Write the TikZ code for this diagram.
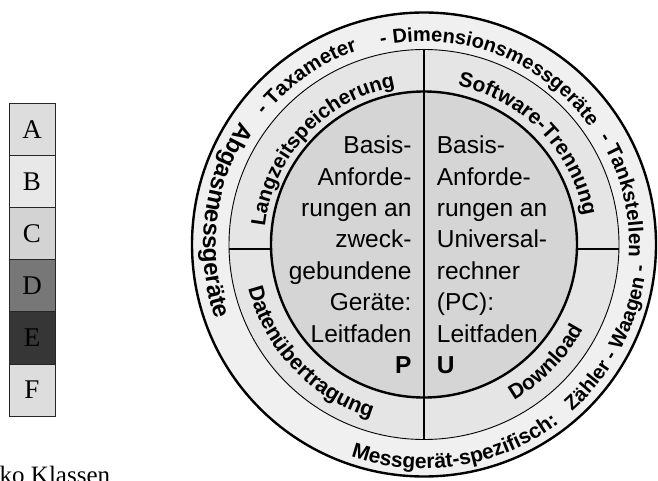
\documentclass[tikz,border=0pt]{standalone}
\usepackage{fontspec}
\setmainfont{Liberation Serif}
\newfontfamily\arialfont{Liberation Sans}
\usetikzlibrary{decorations.text}

\definecolor{ringouter}{HTML}{F0F0F0}
\definecolor{ringmid}{HTML}{E5E5E5}
\definecolor{ringinner}{HTML}{D5D5D5}
\definecolor{clsA}{HTML}{DDDDDD}
\definecolor{clsB}{HTML}{E8E8E8}
\definecolor{clsC}{HTML}{D3D3D3}
\definecolor{clsD}{HTML}{777777}
\definecolor{clsE}{HTML}{363636}
\definecolor{clsF}{HTML}{DDDDDD}

\tikzset{
  classbox/.style={draw=black!85, line width=0.9pt, minimum width=46pt,
    minimum height=52.2pt, inner sep=0pt,
    font=\fontsize{27}{32}\selectfont},
  coretext/.style={inner sep=0pt, font=\arialfont\fontsize{24.5}{31.4}\selectfont},
  thickline/.style={line width=2.4pt},
  thinline/.style={line width=0.9pt},
  bandtext/.style={decorate, decoration={text along path, text align=center, text={#1}}}
}

\begin{document}
\begin{tikzpicture}[x=1pt,y=1pt]
\useasboundingbox (0,0) rectangle (658,480);

% risk classes
\node[classbox, fill=clsA] (A) at (32,350.9) {A};
\node[classbox, fill=clsB] (B) at (32,298.7) {B};
\node[classbox, fill=clsC] (Cc) at (32,246.5) {C};
\node[classbox, fill=clsD] (D) at (32,194.3) {D};
\node[classbox, fill=clsE] (E) at (32,142.1) {E};
\node[classbox, fill=clsF] (F) at (32,89.9) {F};
\node[anchor=base west, inner sep=0pt, font=\fontsize{25}{30}\selectfont] (klassen) at (-0.5,-3.5) {ko Klassen};

% rings
\coordinate (C) at (424,235.5);
\fill[ringouter] (C) circle[radius=232];
\fill[ringmid] (C) circle[radius=195];
\fill[ringinner] (C) circle[radius=153];
\draw[thickline] (C) circle[radius=232];
\draw[thinline] (C) circle[radius=195];
\draw[thickline] (C) circle[radius=153];

% dividers
\coordinate (vtop) at (424,430.5);
\coordinate (vbot) at (424,40.5);
\draw[line width=2.6pt] (vtop) -- (vbot);
\coordinate (hl1) at (229,231);
\coordinate (hl2) at (271,231);
\coordinate (hr1) at (577,231);
\coordinate (hr2) at (619,231);
\draw[line width=2pt] (hl1) -- (hl2);
\draw[line width=2pt] (hr1) -- (hr2);

% core texts
\node[coretext, anchor=north east, align=right] (P) at (411.7,344.3)
  {Basis-\\Anforde-\\rungen an\\zweck-\\gebundene\\Geräte:\\Leitfaden\\\textbf{P}};
\node[coretext, anchor=north west, align=left] (U) at (436.7,344.3)
  {Basis-\\Anforde-\\rungen an\\Universal-\\rechner\\(PC):\\Leitfaden\\\textbf{U}};

% middle band
\path[bandtext={|\arialfont\bfseries\fontsize{20.5}{24}\selectfont|Langzeitspeicherung}]
  (C) ++(182:160) arc[start angle=182, end angle=92, radius=160];
\path[bandtext={|\arialfont\bfseries\fontsize{21}{24}\selectfont|Software-Trennung}]
  (C) ++(89:162) arc[start angle=89, end angle=-1, radius=162];
\path[bandtext={|\arialfont\bfseries\fontsize{21.5}{24}\selectfont|Datenübertragung}]
  (C) ++(178.5:181) arc[start angle=178.5, end angle=268.5, radius=181];
\path[bandtext={|\arialfont\bfseries\fontsize{21}{24}\selectfont|Download}]
  (C) ++(271:180) arc[start angle=271, end angle=361, radius=180];

% outer band
\path[bandtext={|\arialfont\bfseries\fontsize{20}{24}\selectfont|- Dimensionsmessgeräte}]
  (C) ++(113.75:203) arc[start angle=113.75, end angle=23.75, radius=203];
\path[bandtext={|\arialfont\bfseries\fontsize{20.5}{24}\selectfont|- Taxameter}]
  (C) ++(170:205) arc[start angle=170, end angle=80, radius=205];
\path[bandtext={|\arialfont\bfseries\fontsize{20.5}{24}\selectfont|- Tankstellen}]
  (C) ++(59:205) arc[start angle=59, end angle=-31, radius=205];
\path[bandtext={|\arialfont\bfseries\fontsize{24}{28}\selectfont|Abgasmessgeräte}]
  (C) ++(128:221) arc[start angle=128, end angle=218, radius=221];
\path[bandtext={|\arialfont\bfseries\fontsize{21}{24}\selectfont|Messgerät-spezifisch:}]
  (C) ++(234:224) arc[start angle=234, end angle=324, radius=224];
\path[bandtext={|\arialfont\bfseries\fontsize{20}{24}\selectfont|Zähler - Waagen -}]
  (C) ++(288:223) arc[start angle=288, end angle=378, radius=223];
\end{tikzpicture}
\end{document}
